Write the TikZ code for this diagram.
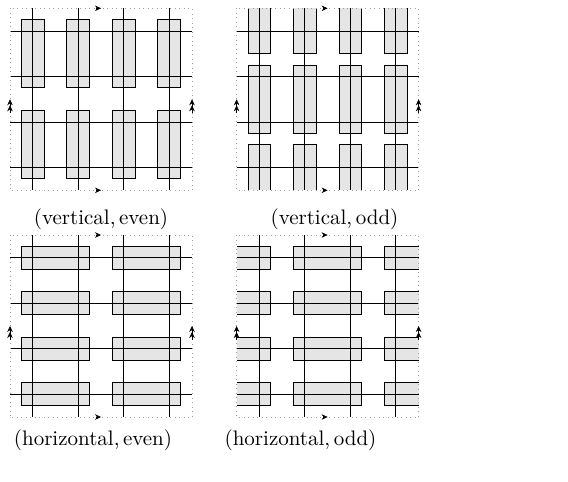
\documentclass[tikz,border=0pt]{standalone}
\usepackage{fontspec}
\newfontfamily\capfont{lmroman10-regular}[Extension=.otf]
\usetikzlibrary{arrows.meta}
\newcommand\gridwires{%
  \foreach \k in {0.5,1.5,2.5,3.5} {
    \draw[wire] (\k,0) -- (\k,4);
    \draw[wire] (0,\k) -- (4,\k);
  }
  \draw[frameline] (0,0) rectangle (4,4);
  \draw[onetip] (1.9,0) -- (2,0);
  \draw[onetip] (1.9,4) -- (2,4);
  \draw[twotip] (0,2.3) -- (0,2);
  \draw[twotip] (4,2.3) -- (4,2);
}
\begin{document}
\begin{tikzpicture}[x=1pt,y=-1pt,
  frameline/.style={gray!75, line width=0.8pt, dash pattern=on 0.8pt off 3.7pt},
  wire/.style={black, line width=0.9pt},
  cell/.style={fill=gray!20, draw=black, line width=0.9pt},
  cellfill/.style={fill=gray!20},
  celledge/.style={draw=black, line width=0.9pt},
  onetip/.style={black, line width=0.6pt, -{Stealth[length=6pt,width=5.5pt]}},
  twotip/.style={black, line width=0.6pt, -{Stealth[length=6pt,width=5.5pt]Stealth[length=6pt,width=5.5pt]}},
  capt/.style={font=\capfont\fontsize{21}{25}\selectfont, inner sep=0pt}]
\useasboundingbox (0,0) rectangle (568,482);

% (vertical, even)
\begin{scope}[shift={(10,8.3)}, x=45.5pt, y=-45.5pt]
  \foreach \i in {0,...,3} {
    \draw[cell] (\i+0.25,0.25) rectangle (\i+0.75,1.75);
    \draw[cell] (\i+0.25,2.25) rectangle (\i+0.75,3.75);
  }
  \gridwires
\end{scope}

% (vertical, odd)
\begin{scope}[shift={(236.6,8.3)}, x=45.5pt, y=-45.5pt]
  \foreach \i in {0,...,3} {
    \fill[cellfill] (\i+0.25,0) rectangle (\i+0.75,1);
    \draw[celledge] (\i+0.25,0) -- (\i+0.25,1) -- (\i+0.75,1) -- (\i+0.75,0);
    \draw[cell] (\i+0.25,1.25) rectangle (\i+0.75,2.75);
    \fill[cellfill] (\i+0.25,3) rectangle (\i+0.75,4);
    \draw[celledge] (\i+0.25,4) -- (\i+0.25,3) -- (\i+0.75,3) -- (\i+0.75,4);
  }
  \gridwires
\end{scope}

% (horizontal, even)
\begin{scope}[shift={(10,235)}, x=45.5pt, y=-45.5pt]
  \foreach \j in {0,...,3} {
    \draw[cell] (0.25,\j+0.25) rectangle (1.75,\j+0.75);
    \draw[cell] (2.25,\j+0.25) rectangle (3.75,\j+0.75);
  }
  \gridwires
\end{scope}

% (horizontal, odd)
\begin{scope}[shift={(236.6,235)}, x=45.5pt, y=-45.5pt]
  \foreach \j in {0,...,3} {
    \fill[cellfill] (0,\j+0.25) rectangle (0.75,\j+0.75);
    \draw[celledge] (0,\j+0.25) -- (0.75,\j+0.25) -- (0.75,\j+0.75) -- (0,\j+0.75);
    \draw[cell] (1.25,\j+0.25) rectangle (2.75,\j+0.75);
    \fill[cellfill] (3.25,\j+0.25) rectangle (4,\j+0.75);
    \draw[celledge] (4,\j+0.25) -- (3.25,\j+0.25) -- (3.25,\j+0.75) -- (4,\j+0.75);
  }
  \gridwires
\end{scope}

\node[capt] (c1) at (101,219.5) {(vertical,\,even)};
\node[capt] (c2) at (334.5,219.5) {(vertical,\,odd)};
\node[capt] (c3) at (93,440) {(horizontal,\,even)};
\node[capt] (c4) at (300.5,440) {(horizontal,\,odd)};
\end{tikzpicture}
\end{document}
